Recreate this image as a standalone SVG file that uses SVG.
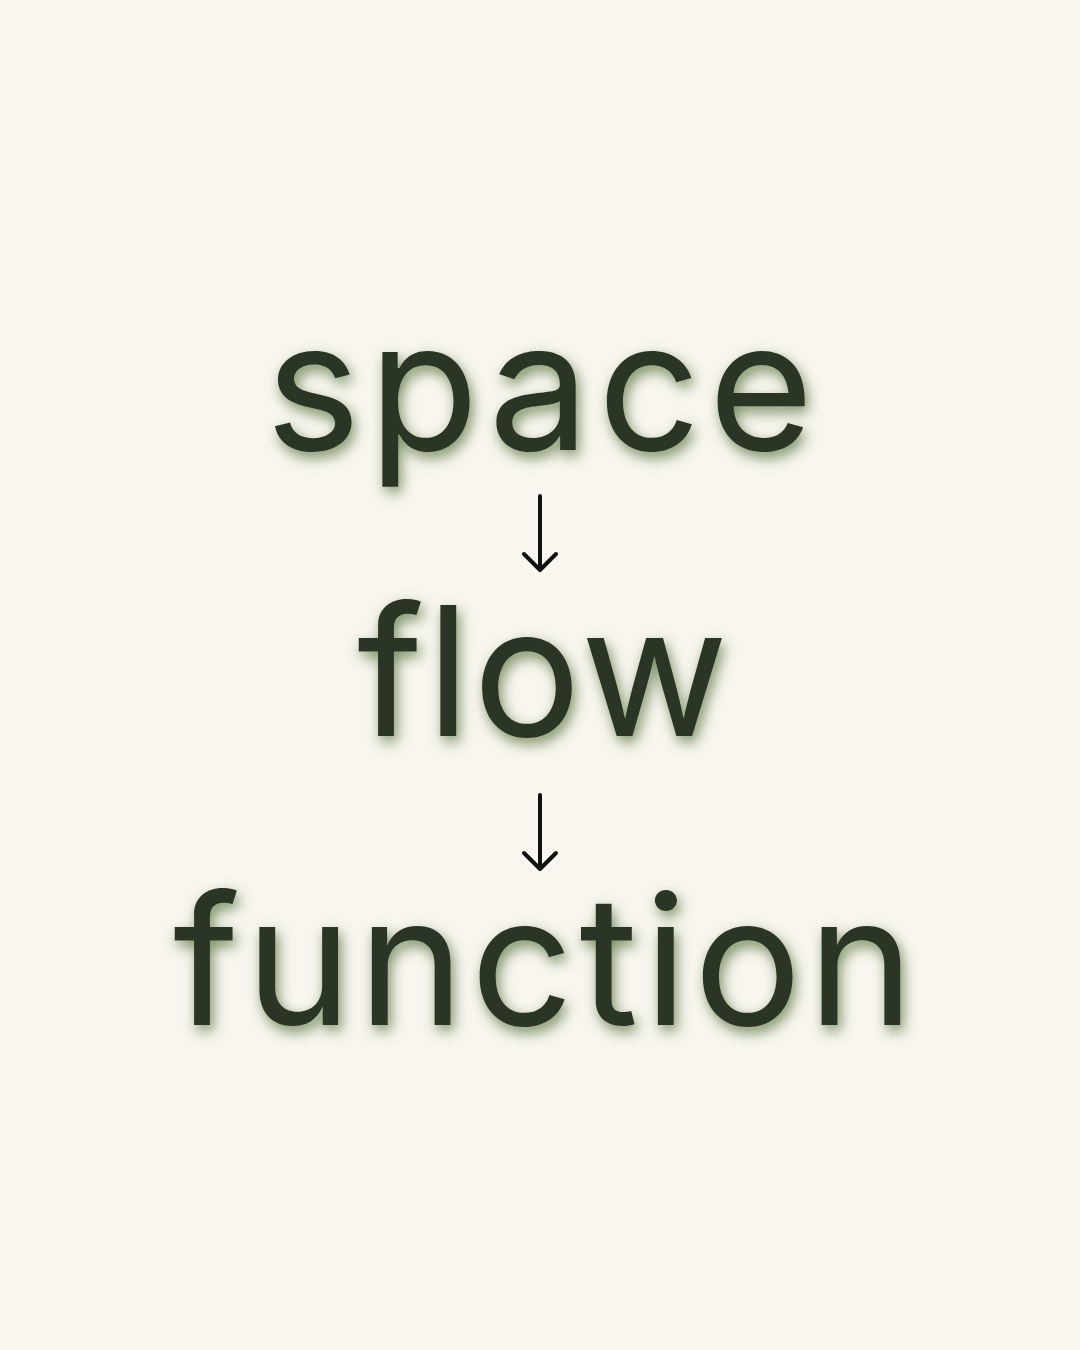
<svg xmlns="http://www.w3.org/2000/svg" width="1080" height="1350" viewBox="0 0 1080 1350">
  <defs>
    <filter id="glow" x="-20%" y="-40%" width="140%" height="180%">
      <feDropShadow dx="3" dy="6" stdDeviation="7" flood-color="#58753c" flood-opacity="0.8"/>
    </filter>
  </defs>
  <style>
    .word { font-family: Inter, "Liberation Sans", sans-serif; font-size: 180px; fill: #2c3427; text-anchor: middle; filter: url(#glow); }
    .arrow { fill: none; stroke: #111111; stroke-width: 4; stroke-linecap: round; stroke-linejoin: round; }
  </style>
  <rect width="1080" height="1350" fill="#f8f6ef"/>
  <g id="node-space"><text class="word" x="543.5" y="450" letter-spacing="8">space</text></g>
  <g id="node-flow"><text class="word" x="544" y="736" letter-spacing="3">flow</text></g>
  <g id="node-function"><text class="word" x="546.5" y="1025" letter-spacing="6">function</text></g>
  <g id="connectors">
    <path class="arrow" d="M540 496 V570 M524 554 L540 570 L556 554"/>
    <path class="arrow" d="M540 795 V869 M524 853 L540 869 L556 853"/>
  </g>
</svg>
